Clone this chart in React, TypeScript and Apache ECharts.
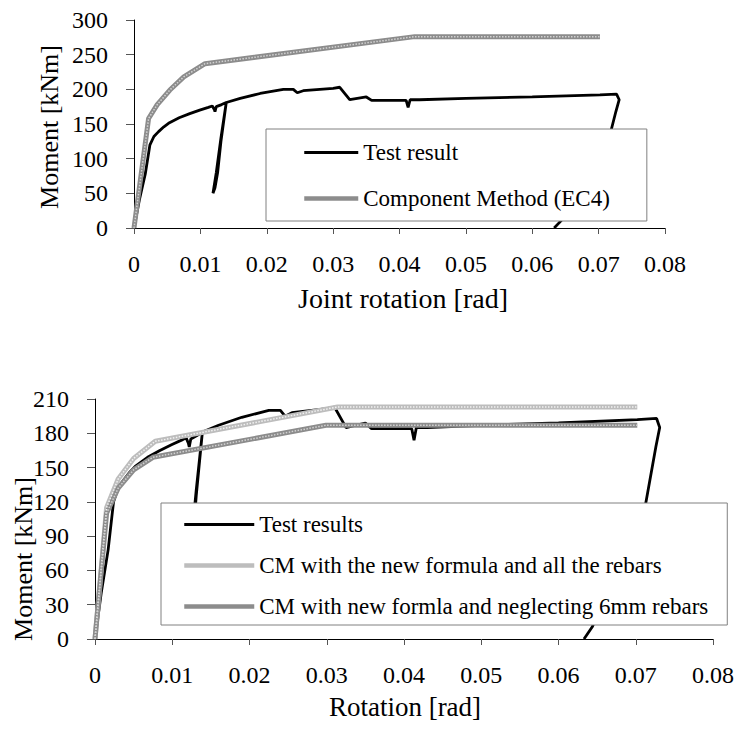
import React, { useEffect, useRef } from "react";
import * as echarts from "echarts";

// Rotation [rad], Moment [kNm]
const testResult: number[][] = [
  [0, 0], [0.0008, 40], [0.0017, 78], [0.0024, 120], [0.003, 132], [0.0037, 139],
  [0.0045, 146], [0.0052, 151], [0.0068, 159], [0.0084, 165], [0.0099, 170],
  [0.0112, 174], [0.0118, 176], [0.0121, 171], [0.0122, 168], [0.0124, 175],
  [0.0132, 178], [0.0139, 181], [0.0131, 130], [0.0124, 80], [0.0119, 50],
  [0.0122, 58], [0.0126, 80], [0.0131, 125], [0.0139, 181], [0.016, 187],
  [0.019, 194], [0.0225, 200], [0.024, 200], [0.0246, 195], [0.0255, 198],
  [0.03, 201.5], [0.031, 203], [0.0325, 185], [0.035, 189], [0.0358, 184],
  [0.041, 184], [0.0413, 174], [0.0416, 185], [0.043, 185], [0.05, 187],
  [0.06, 189], [0.0702, 192], [0.0727, 193], [0.0731, 185], [0.0726, 168],
  [0.0713, 119], [0.0644, 11], [0.0633, 0],
];

const componentMethodEC4: number[][] = [
  [0, 0], [0.0022, 158], [0.0035, 178], [0.0054, 199], [0.0075, 218],
  [0.0107, 237], [0.0423, 276], [0.0702, 276],
];

const cmNewFormulaAllRebars: number[][] = [
  [0, 0], [0.0015, 115], [0.003, 140], [0.005, 158], [0.0078, 173],
  [0.0314, 203], [0.0702, 203],
];

const cmNewFormulaNeglecting6mm: number[][] = [
  [0, 0], [0.0015, 110], [0.003, 132], [0.005, 148], [0.0075, 159],
  [0.0299, 187], [0.0702, 187],
];

const topNames = ["Test result", "Component Method (EC4)"];
const bottomNames = [
  "Test results",
  "CM with the new formula and all the rebars",
  "CM with new formla and neglecting 6mm rebars",
];
const topTitles = { x: "Joint rotation [rad]", y: "Moment [kNm]" };
const bottomTitles = { x: "Rotation [rad]", y: "Moment [kNm]" };

const FONT = "Liberation Serif";

export default function App() {
  const ref = useRef<HTMLDivElement>(null);
  useEffect(() => {
    if (!ref.current) return;
    const chart = echarts.init(ref.current, undefined, { renderer: "svg" });
    const xFmt = (v: number) => (v === 0 ? "0" : v.toFixed(2));
    const xAxisBase = (gridIndex: number) => ({
      type: "value",
      gridIndex,
      min: 0,
      max: 0.08,
      interval: 0.01,
      splitLine: { show: false },
      axisLine: { onZero: false, lineStyle: { color: "#000", width: 1 } },
      axisTick: { inside: false, length: 6, lineStyle: { color: "#555" } },
      axisLabel: { formatter: xFmt, fontFamily: FONT, fontSize: 24, color: "#000", margin: 24 },
    });
    const yAxisBase = (gridIndex: number, max: number, interval: number) => ({
      type: "value",
      gridIndex,
      min: 0,
      max,
      interval,
      splitLine: { show: false },
      axisLine: { show: true, lineStyle: { color: "#000", width: 1 } },
      axisTick: { show: true, inside: false, length: 8, lineStyle: { color: "#555" } },
      axisLabel: { fontFamily: FONT, fontSize: 24, color: "#000", margin: 26 },
    });
    const legendBase = {
      orient: "vertical",
      backgroundColor: "#fff",
      borderColor: "#808080",
      borderWidth: 1,
      borderRadius: 0,
      selectedMode: false,
      itemHeight: 12,
      itemStyle: { color: "rgba(0,0,0,0)", borderWidth: 0, opacity: 0 },
      textStyle: { fontFamily: FONT, fontSize: 23, color: "#000" },
    };
    const legendItem = (name: string, width: number) => ({
      name,
      lineStyle: { width },
    });
    const titleText = (text: string, x: number, y: number, rot: number, size: number) => ({
      type: "text",
      x,
      y,
      rotation: rot,
      style: {
        text,
        fontFamily: FONT,
        fontSize: size,
        fill: "#000",
        textAlign: "center",
        textVerticalAlign: "middle",
      },
    });
    const grayLine = (
      name: string,
      axis: number,
      data: number[][],
      base: string,
      dots: string,
      z: number
    ) => [
      {
        name,
        type: "line",
        xAxisIndex: axis,
        yAxisIndex: axis,
        data,
        symbol: "none",
        z,
        lineStyle: { color: base, width: 5 },
        itemStyle: { color: base },
      },
      {
        name: name + " texture",
        type: "line",
        xAxisIndex: axis,
        yAxisIndex: axis,
        data,
        symbol: "none",
        silent: true,
        z: z + 0.1,
        lineStyle: { color: dots, width: 1.5, type: [1.5, 1.5] },
        itemStyle: { color: dots },
      },
    ];
    chart.setOption({
      animation: false,
      backgroundColor: "#fff",
      grid: [
        { left: 134, top: 20, width: 531, height: 208 },
        { left: 95, top: 399, width: 619, height: 240 },
      ],
      xAxis: [xAxisBase(0), xAxisBase(1)],
      yAxis: [yAxisBase(0, 300, 50), yAxisBase(1, 210, 30)],
      legend: [
        {
          ...legendBase,
          left: 266,
          top: 129,
          data: [legendItem(topNames[0], 3), legendItem(topNames[1], 4.5)],
          itemWidth: 54,
          itemGap: 23,
          padding: [12, 37, 11, 36],
        },
        {
          ...legendBase,
          left: 161,
          top: 503,
          data: [
            legendItem(bottomNames[0], 3),
            legendItem(bottomNames[1], 4.5),
            legendItem(bottomNames[2], 4.5),
          ],
          itemWidth: 70,
          itemGap: 18,
          padding: [10, 19, 7, 21],
        },
      ],
      graphic: [
        titleText(topTitles.y, 49, 127, Math.PI / 2, 26),
        titleText(topTitles.x, 403, 298, 0, 28),
        titleText(bottomTitles.y, 23, 559, Math.PI / 2, 26),
        titleText(bottomTitles.x, 405, 707, 0, 27),
      ],
      series: [
        {
          name: topNames[0],
          type: "line",
          xAxisIndex: 0,
          yAxisIndex: 0,
          data: testResult,
          symbol: "none",
          z: 2,
          lineStyle: { color: "#000", width: 2.8 },
          itemStyle: { color: "#000" },
        },
        ...grayLine(topNames[1], 0, componentMethodEC4, "#8c8c8c", "#d2d2d2", 3),
        {
          name: bottomNames[0],
          type: "line",
          xAxisIndex: 1,
          yAxisIndex: 1,
          data: testResult,
          symbol: "none",
          z: 2,
          lineStyle: { color: "#000", width: 2.8 },
          itemStyle: { color: "#000" },
        },
        ...grayLine(bottomNames[1], 1, cmNewFormulaAllRebars, "#bdbdbd", "#f2f2f2", 3),
        ...grayLine(bottomNames[2], 1, cmNewFormulaNeglecting6mm, "#8c8c8c", "#d2d2d2", 3),
      ],
    });
    return () => chart.dispose();
  }, []);
  return (
    <div
      ref={ref}
      style={{ position: "absolute", left: 0, top: 0, width: 737, height: 729 }}
    />
  );
}
